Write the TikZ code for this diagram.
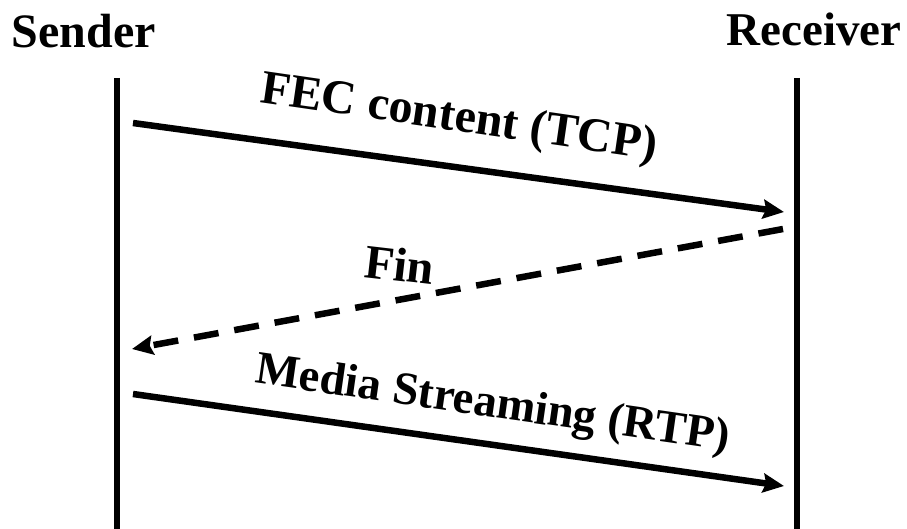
\documentclass[tikz,border=0pt]{standalone}
\usepackage{fontspec}
\setmainfont{Liberation Serif}
\usetikzlibrary{arrows.meta}
\begin{document}
\begin{tikzpicture}[x=1pt,y=-1pt,
  lifeline/.style={line width=5.2pt},
  msg/.style={line width=6.5pt,-{Stealth[length=21pt,width=19pt,inset=3pt]}},
  reply/.style={msg,dash pattern=on 25pt off 16pt},
  party/.style={font=\bfseries\fontsize{48}{56}\selectfont,anchor=base,inner sep=0pt},
  msglabel/.style={font=\bfseries\fontsize{48}{56}\selectfont,anchor=base,inner sep=0pt}]
\useasboundingbox (0,0) rectangle (907,529);

% participants
\node[party] (sender) at (84,48) {Sender};
\node[party,font=\bfseries\fontsize{47}{56}\selectfont] (receiver) at (814,46) {Receiver};

% lifelines
\coordinate (sTop) at (117,78);
\coordinate (sBot) at (117,529);
\coordinate (rTop) at (797,78);
\coordinate (rBot) at (797,529);
\draw[lifeline] (sTop) -- (sBot);
\draw[lifeline] (rTop) -- (rBot);

% message end points
\coordinate (s1) at (133,123);
\coordinate (r1) at (784,212);
\coordinate (r2) at (783,229);
\coordinate (s2) at (132,349);
\coordinate (s3) at (133,394);
\coordinate (r3) at (784,486);

% messages
\draw[msg] (s1) -- (r1);
\draw[reply] (r2) -- (s2);
\draw[msg] (s3) -- (r3);

% message labels
\node[msglabel,rotate=-8.3] (fec) at (457,131) {FEC content (TCP)};
\node[msglabel,rotate=-6.6] (fin) at (398,281) {Fin};
\node[msglabel,rotate=-8.2,font=\bfseries\fontsize{46.5}{56}\selectfont] (media) at (491,417) {Media Streaming (RTP)};
\end{tikzpicture}
\end{document}
